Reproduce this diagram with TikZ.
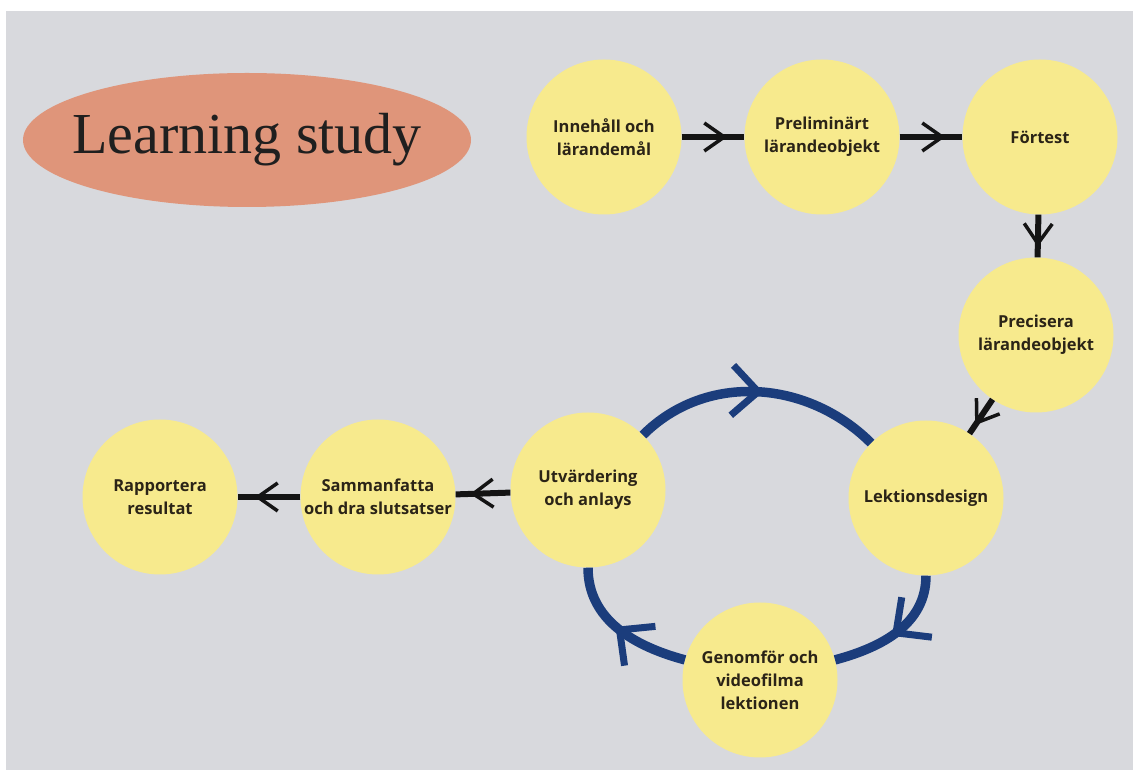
\documentclass[tikz,border=0pt]{standalone}
\usepackage{fontspec}
\usepackage{xcolor}
\usepackage{tikz}
\usetikzlibrary{shapes.geometric,decorations.markings}

\setsansfont{Open Sans}
\newfontfamily\titlefont{Liberation Serif}

\definecolor{bggray}{HTML}{D8D9DD}
\definecolor{stagefill}{HTML}{F7EA8D}
\definecolor{stagetext}{HTML}{2B2417}
\definecolor{titlefill}{HTML}{DF957A}
\definecolor{loopblue}{HTML}{1B3D7C}

\begin{document}
\begin{tikzpicture}[x=1pt, y=1pt, node distance=218pt,
    stage/.style={circle, fill=stagefill, text=stagetext, minimum size=155pt, inner sep=0pt, align=center,
        font=\sffamily\bfseries\fontsize{16.5}{23}\selectfont},
    flow/.style={line width=6pt, draw=black!92, postaction={decorate},
        decoration={markings, mark=at position 0.68 with {\draw[black!92, line width=3.5pt, line join=round] (-20pt,14pt) -- (0pt,0pt) -- (-20pt,-14pt);}}},
    loopflow/.style={line width=9.5pt, draw=loopblue, postaction={decorate},
        decoration={markings, mark=at position 0.5 with {\draw[loopblue, line width=7pt, line join=round] (-26pt,25pt) -- (0pt,0pt) -- (-26pt,-25pt);}}}]
    \useasboundingbox (0,0) rectangle (1133,771);
    \fill[white] (0,0) rectangle (1133,771);
    \fill[bggray] (6,1) rectangle (1133,760);

    \node (title) [ellipse, fill=titlefill, minimum width=448pt, minimum height=134pt, inner sep=0pt,
        label={[font=\titlefont\fontsize{58}{62}\selectfont, text=black!88]center:Learning study}] at (247,631) {};

    \node (inn) [stage] at (604,634) {Innehåll och\\lärandemål};
    \node (pre) [stage, right of=inn] {Preliminärt\\lärandeobjekt};
    \node (fort) [stage, right of=pre] {Förtest};
    \node (prec) [stage, below of=fort, xshift=-4pt, yshift=20pt] {Precisera\\lärandeobjekt};
    \node (lek) [stage, below of=prec, xshift=-110pt, yshift=55pt] {Lektionsdesign};
    \node (gen) [stage, below of=lek, xshift=-166pt, yshift=36pt] {Genomför och\\videofilma\\lektionen};
    \node (utv) [stage, left of=lek, xshift=-120pt, yshift=8pt] {Utvärdering\\och anlays};
    \node (samm) [stage, left of=utv, xshift=8pt, yshift=-7pt] {Sammanfatta\\och dra slutsatser};
    \node (rapp) [stage, left of=samm] {Rapportera\\resultat};

    \draw[flow] (inn) -- (pre);
    \draw[flow] (pre) -- (fort);
    \draw[flow] (fort) -- (prec);
    \draw[flow] (prec) -- (lek);
    \draw[loopflow] (utv) to[out=45, in=135] (lek);
    \draw[loopflow] (lek) to[out=-90, in=15] (gen);
    \draw[loopflow] (gen) to[out=165, in=-90] (utv);
    \draw[flow] (utv) -- (samm);
    \draw[flow] (samm) -- (rapp);
\end{tikzpicture}
\end{document}
